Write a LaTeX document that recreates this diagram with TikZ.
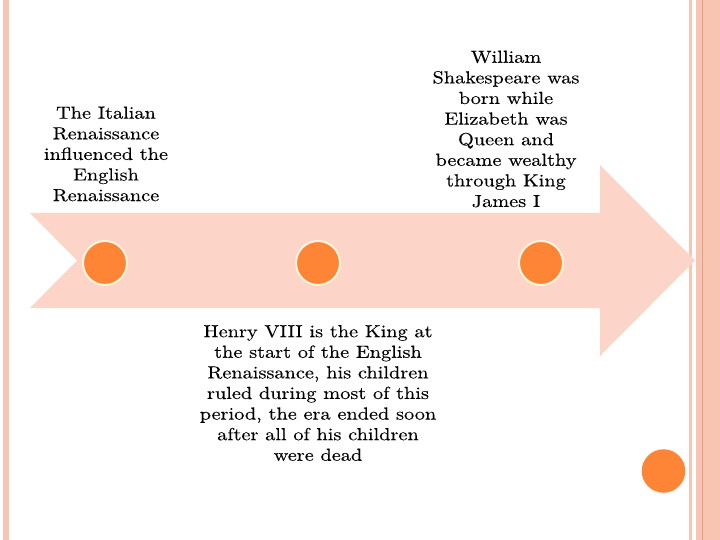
\documentclass[tikz,border=0pt]{standalone}
\usepackage{fontspec}
\newfontfamily\schfont{lmroman10-regular.otf}[FakeStretch=1.16, FakeBold=0.2]
\usepackage{tikz}
\usetikzlibrary{positioning}
\definecolor{peach}{HTML}{FCD5C8}
\definecolor{stripe}{HTML}{F8C5B2}
\definecolor{dot}{HTML}{FD8535}
\definecolor{rim}{HTML}{FFF4DE}
\definecolor{rule}{HTML}{EE9E7C}

\begin{document}
\begin{tikzpicture}[x=1pt,y=-1pt,
  event/.style={circle, fill=dot, draw=rim, line width=2pt, minimum size=44pt, inner sep=0pt},
  note/.style={align=center, inner sep=0pt, font=\schfont\fontsize{17.5}{20.6}\selectfont}]
\useasboundingbox (0,0) rectangle (720,540);

% slide borders
\fill[stripe] (3,0) rectangle (9,540);
\fill[stripe] (689,0) rectangle (692,540);
\fill[stripe] (696,0) rectangle (720,540);
\draw[rule, line width=1.5pt] (702.5,0) -- (702.5,540);

% timeline arrow
\fill[peach] (30,213) -- (600,213) -- (600,165) -- (695,260.5) -- (600,356)
  -- (600,308) -- (30,308) -- (77,260.5) -- cycle;

\node[event] (c1) at (105,263) {};
\node[event] (c2) at (318,263) {};
\node[event] (c3) at (541,263) {};
\node[circle, fill=dot, minimum size=43.5pt, inner sep=0pt] (c4) at (663.5,471) {};

\node[note] (t1) at (106,154) {The Italian\\Renaissance\\influenced the\\English\\Renaissance};
\node[note] (t3) at (506,129) {William\\Shakespeare was\\born while\\Elizabeth was\\Queen and\\became wealthy\\through King\\James I};
\node[note] (t2) at (318,393) {Henry VIII is the King at\\the start of the English\\Renaissance, his children\\ruled during most of this\\period, the era ended soon\\after all of his children\\were dead};
\end{tikzpicture}
\end{document}
